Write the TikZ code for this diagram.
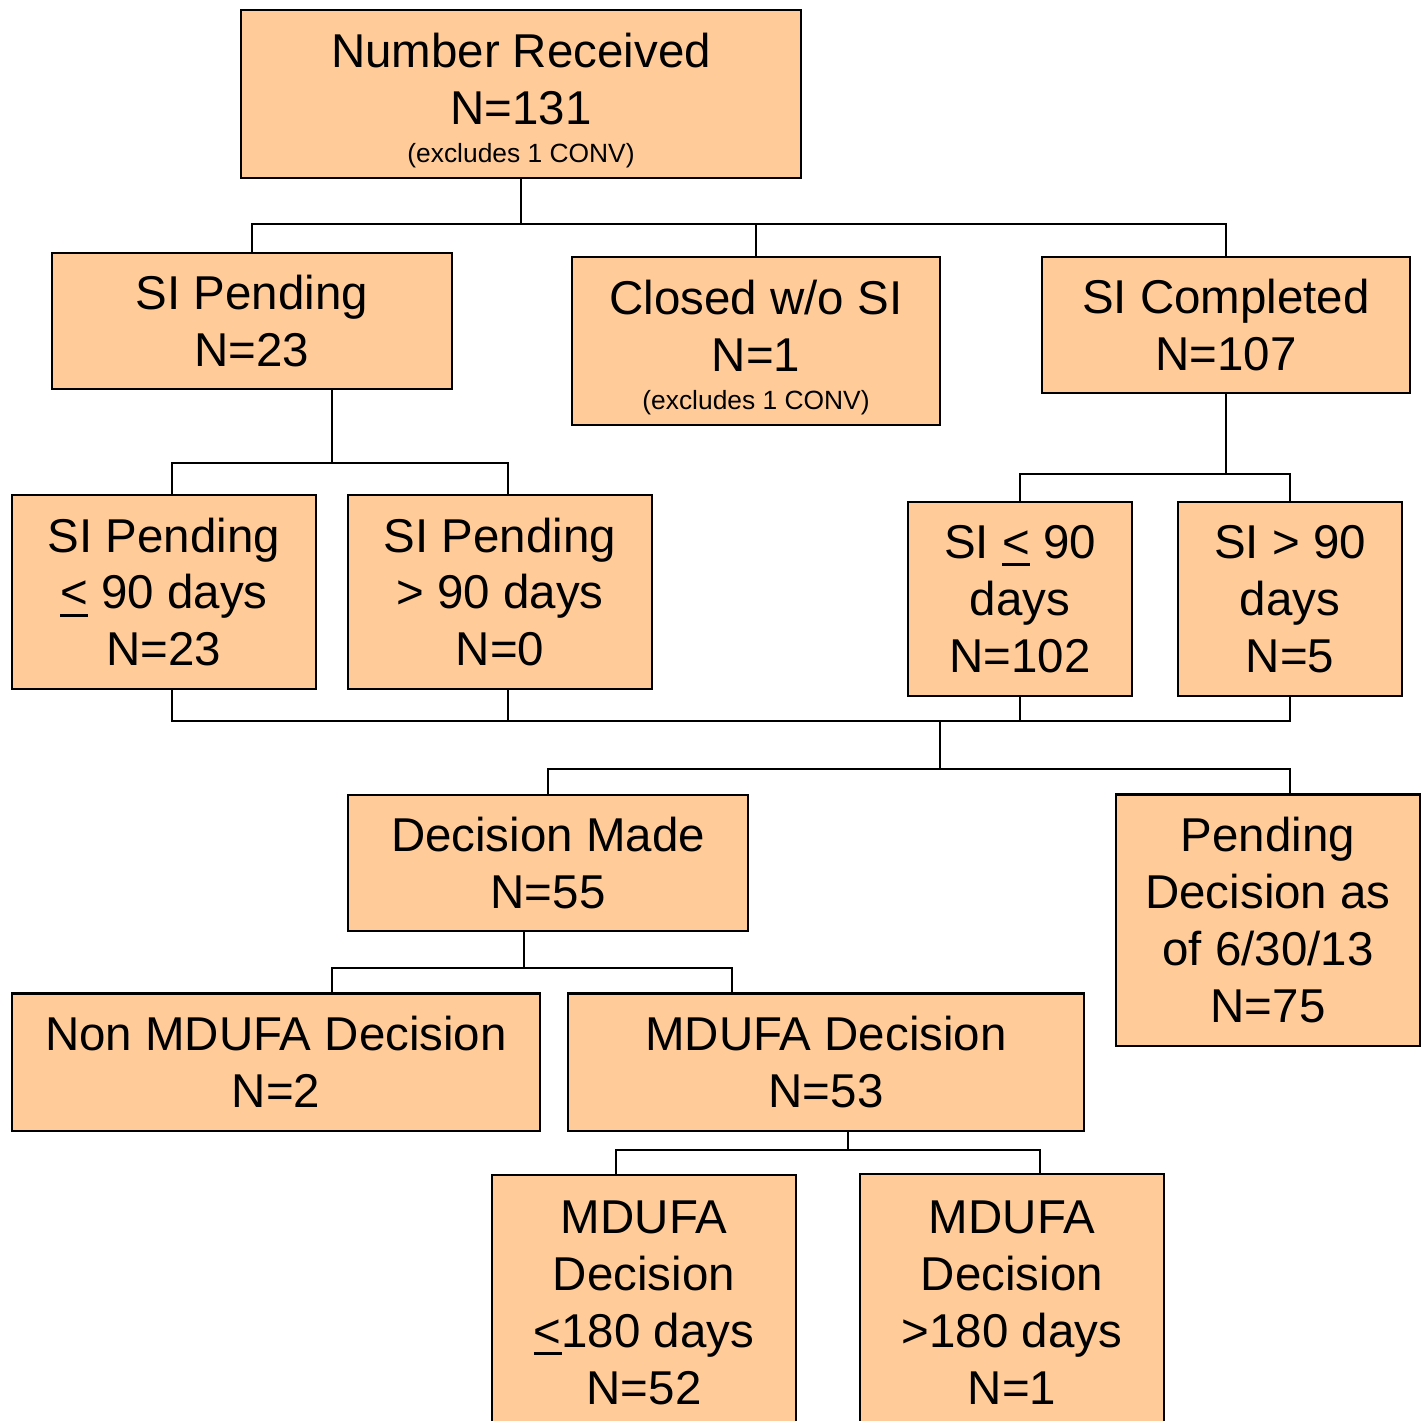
\documentclass[tikz,border=0pt]{standalone}
\usepackage{fontspec}
\setmainfont{Liberation Sans}
\usepackage{xcolor}
\usetikzlibrary{positioning}

\definecolor{boxfill}{RGB}{255,204,153}
\newcommand{\bigtxt}{\fontsize{13.5}{16.2}\selectfont}
\newcommand{\smalltxt}{\fontsize{7.5}{10}\selectfont}
\newcommand{\uleq}{\leavevmode\setbox0\hbox{<}\rlap{\rule[-2.2pt]{\wd0}{0.85pt}}\box0\relax}
\newcommand{\topstrut}{\rule{0pt}{13.3pt}}

\begin{document}
\begin{tikzpicture}[x=0.01cm, y=-0.01cm,
        box/.style={draw, fill=boxfill, line width=0.6pt, align=center, inner sep=0pt, font=\bigtxt},
        wire/.style={line width=0.6pt}]
                \useasboundingbox (0, 0) rectangle (1428, 1420);
                \clip (0, 0) rectangle (1428, 1420);

                \node[box, minimum width=5.60cm, minimum height=1.68cm] (nr) at (521, 94) {\topstrut Number Received\\N=131\\[-5.4pt]{\smalltxt (excludes 1 CONV)}};
                \node[box, minimum width=4.00cm, minimum height=1.36cm] (sip) at (252, 321) {SI Pending\\N=23};
                \node[box, minimum width=3.68cm, minimum height=1.68cm] (cls) at (756, 341) {\topstrut Closed w/o SI\\N=1\\[-5.4pt]{\smalltxt (excludes 1 CONV)}};
                \node[box, minimum width=3.68cm, minimum height=1.36cm] (sic) at (1226, 325) {SI Completed\\N=107};

                \node[box, minimum width=3.04cm, minimum height=1.94cm] (sipa) at (164, 592) {SI Pending\\\uleq{} 90 days\\N=23};
                \node[box, minimum width=3.04cm, minimum height=1.94cm] (sipb) at (500, 592) {SI Pending\\> 90 days\\N=0};
                \node[box, minimum width=2.24cm, minimum height=1.94cm] (sia) at (1020, 599) {SI \uleq{} 90\\days\\N=102};
                \node[box, minimum width=2.24cm, minimum height=1.94cm] (sib) at (1290, 599) {SI > 90\\days\\N=5};

                \node[box, minimum width=4.00cm, minimum height=1.36cm] (dec) at (548, 863) {Decision Made\\N=55};
                \node[box, minimum width=3.04cm, minimum height=2.51cm] (pend) at (1268, 920) {Pending\\Decision as\\of 6/30/13\\N=75};

                \node[box, minimum width=5.28cm, minimum height=1.37cm] (non) at (276, 1062) {Non MDUFA Decision\\N=2};
                \node[box, minimum width=5.15cm, minimum height=1.37cm] (mdufa) at (826, 1062) {MDUFA Decision\\N=53};

                \node[box, minimum width=3.04cm, minimum height=2.56cm] (mda) at (644, 1303) {MDUFA\\Decision\\\uleq{}180 days\\N=52};
                \node[box, minimum width=3.04cm, minimum height=2.58cm] (mdb) at (1012, 1303) {MDUFA\\Decision\\>180 days\\N=1};

                % junctions of the tree
                \coordinate (j1) at (521, 224);
                \coordinate (j2) at (332, 463);
                \coordinate (j2l) at (172, 463);
                \coordinate (j2r) at (508, 463);
                \coordinate (j3) at (1226, 474);
                \coordinate (j4) at (940, 721);
                \coordinate (j5) at (940, 769);
                \coordinate (j6) at (524, 968);
                \coordinate (j6l) at (332, 968);
                \coordinate (j6r) at (732, 968);
                \coordinate (j7) at (848, 1150);
                \coordinate (j7l) at (616, 1150);
                \coordinate (j7r) at (1040, 1150);

                \draw[wire] (nr.south) -- (j1);
                \draw[wire] (sip.north) |- (j1) -| (sic.north);
                \draw[wire] (cls.north) -- (cls.north |- j1);

                \draw[wire] (sip.south -| j2) -- (j2);
                \draw[wire] (sipa.north -| j2l) |- (j2r) -- (sipb.north -| j2r);
                \draw[wire] (sic.south) -- (j3);
                \draw[wire] (sia.north) |- (j3) -| (sib.north);

                \draw[wire] (sipa.south -| j2l) |- (j4) -| (sib.south);
                \draw[wire] (sipb.south -| j2r) -- (j2r |- j4);
                \draw[wire] (sia.south) -- (sia.south |- j4);
                \draw[wire] (j4) -- (j5);
                \draw[wire] (dec.north) |- (j5) -| (pend.north -| sib.south);

                \draw[wire] (dec.south -| j6) -- (j6);
                \draw[wire] (non.north -| j6l) |- (j6r) -- (mdufa.north -| j6r);
                \draw[wire] (mdufa.south -| j7) -- (j7);
                \draw[wire] (mda.north -| j7l) |- (j7r) -- (mdb.north -| j7r);
            \end{tikzpicture}
\end{document}
